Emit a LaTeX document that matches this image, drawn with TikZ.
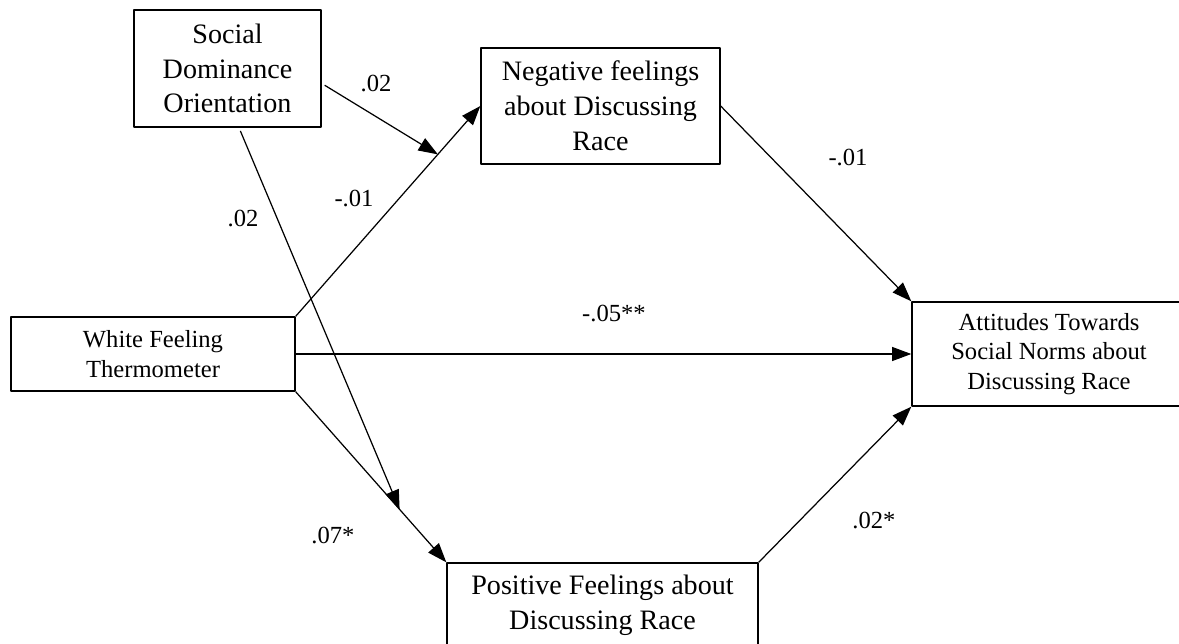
\documentclass[tikz,border=0pt]{standalone}
\usepackage{fontspec}
\setmainfont{Liberation Serif}
\usetikzlibrary{arrows.meta}
\usetikzlibrary{calc}
\tikzset{box/.style={draw,line width=.8pt,align=center,inner sep=0pt,font=\fontsize{16}{19.8}\selectfont}}
\tikzset{sbox/.style={box,font=\fontsize{14}{17}\selectfont}}
\tikzset{l/.style={font=\fontsize{14}{14}\selectfont}}
\tikzset{a/.style={-{Triangle[length=11pt,width=8pt]},line width=.7pt}}
\begin{document}
\begin{tikzpicture}[x=0.02cm,y=-0.02cm,line join=round]
  \useasboundingbox (0,0) rectangle (1179,643);
  \node[box,minimum width=3.74cm,minimum height=2.34cm] (sdo) at (227.5,68.5) {Social\\Dominance\\Orientation};
  \node[box,minimum width=4.78cm,minimum height=2.32cm] (neg) at (600.5,106) {Negative feelings\\about Discussing\\Race};
  \node[sbox,minimum width=5.68cm,minimum height=1.48cm] (wft) at (153,354) {White Feeling\\Thermometer};
  \node[sbox,minimum width=5.48cm,minimum height=2.08cm] (att) at (1049,354) {Attitudes Towards\\Social Norms about\\Discussing Race};
  \node[box,minimum width=6.22cm,minimum height=1.68cm] (pos) at (602.5,605) {Positive Feelings about\\Discussing Race};
  \coordinate (m1) at ($(wft.north east)!.77!(neg.west)$);
  \coordinate (m2) at ($(wft.south east)!.69!(pos.north west)$);
  \draw[a] (wft.north east) -- (neg.west);
  \draw[a] (wft.east) -- (att.west);
  \draw[a] (wft.south east) -- (pos.north west);
  \draw[a] (neg.east) -- (att.north west);
  \draw[a] (pos.north east) -- (att.south west);
  \draw[a,shorten <=2pt] (sdo.-9) -- (m1);
  \draw[a,shorten <=2pt] (sdo.-79) -- (m2);
  \node[l] (lsn) at (376,83) {.02};
  \node[l] (lsp) at (243,218) {.02};
  \node[l] (lwn) at (354,198) {-.01};
  \node[l] (lna) at (848,157) {-.01};
  \node[l] (lwa) at (614,313) {-.05**};
  \node[l] (lwp) at (333,535) {.07*};
  \node[l] (lpa) at (874,520) {.02*};
\end{tikzpicture}
\end{document}
